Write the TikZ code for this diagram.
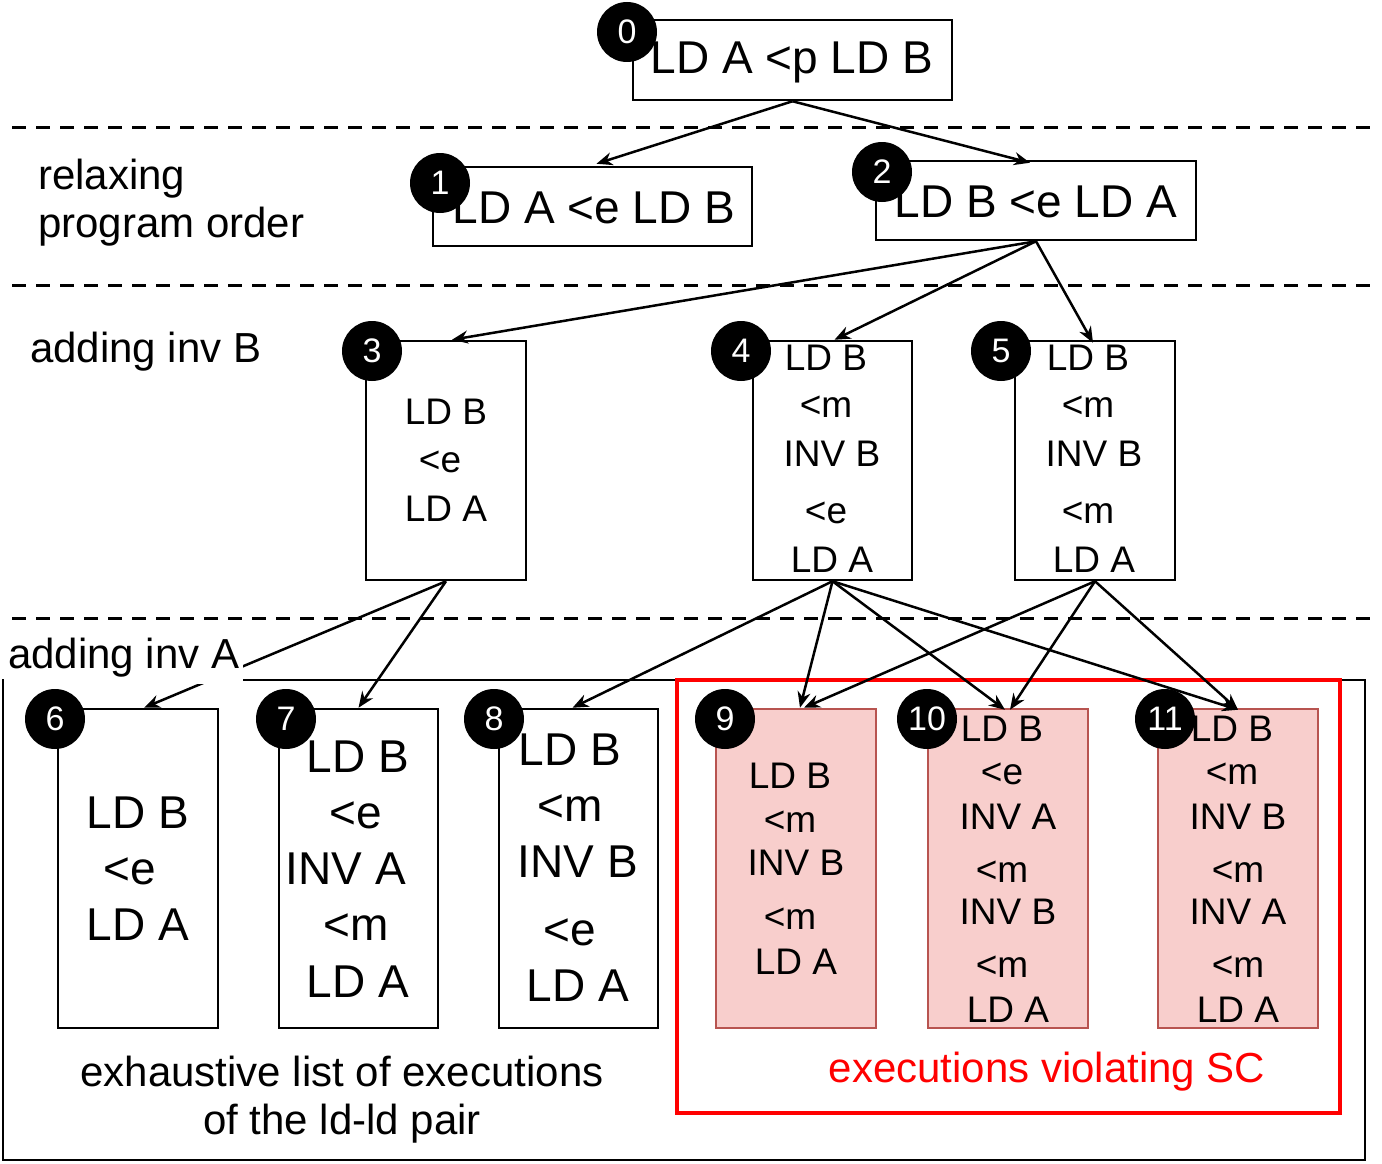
\documentclass[tikz,border=0pt]{standalone}
\usepackage{fontspec}
\setmainfont{Liberation Sans}
\usetikzlibrary{arrows.meta}
\definecolor{pinkf}{HTML}{F8CECC}
\definecolor{pinkd}{HTML}{B85450}
\begin{document}
\begin{tikzpicture}[x=1pt,y=-1pt,
  box/.style={draw,line width=2.5pt,inner sep=0pt},
  redbox/.style={box,fill=pinkf,draw=pinkd},
  badge/.style={circle,fill=black,text=white,minimum size=60pt,inner sep=0pt,font=\fontsize{34}{36}\selectfont},
  big/.style={font=\fontsize{46}{50}\selectfont,inner sep=0pt},
  lab/.style={font=\fontsize{42}{48}\selectfont,inner sep=0pt,align=left},
  mid/.style={font=\fontsize{37}{40}\selectfont,inner sep=0pt},
  lg/.style={font=\fontsize{46}{50}\selectfont,inner sep=0pt},
  arr/.style={line width=2.5pt,-{Stealth[length=16pt,width=13pt]}},
  dsh/.style={line width=3pt,dash pattern=on 14pt off 10pt}]
\useasboundingbox (0,0) rectangle (1382,1164);
% dashed separators
\coordinate (d1a) at (12,127); \coordinate (d1b) at (1370,127);
\coordinate (d2a) at (12,285); \coordinate (d2b) at (1370,285);
\coordinate (d3a) at (12,618); \coordinate (d3b) at (1370,618);
\draw[dsh] (d1a)--(d1b); \draw[dsh] (d2a)--(d2b); \draw[dsh] (d3a)--(d3b);
% outer boxes
\node[draw,line width=2.5pt,minimum width=1362pt,minimum height=480pt,inner sep=0pt] (outer) at (684,920) {};
\node[draw=red,line width=4pt,minimum width=663pt,minimum height=433pt,inner sep=0pt] (redarea) at (1008.5,896.5) {};
% top boxes
\node[box,minimum width=319pt,minimum height=80pt] (b0) at (792.5,60) {};
\node[big] (t0) at (792,62) {LD A <p LD B};
\node[box,minimum width=319pt,minimum height=79pt] (b1) at (592.5,206.5) {};
\node[big] (t1) at (594,208) {LD A <e LD B};
\node[box,minimum width=320pt,minimum height=79pt] (b2) at (1036,200.5) {};
\node[big] (t2) at (1036,202) {LD B <e LD A};
\node[lab,anchor=west] (lr) at (38,203) {relaxing\\program order};
\node[lab,anchor=west] (lb) at (30,352) {adding inv B};
% level 3
\node[box,minimum width=160pt,minimum height=239pt] (b3) at (446,460.5) {};
\node[mid] at (446,412) {LD B}; \node[mid] at (440,462) {<e}; \node[mid] at (446,509) {LD A};
\node[box,minimum width=159pt,minimum height=239pt] (b4) at (832.5,460.5) {};
\node[mid] at (826,358) {LD B}; \node[mid] at (826,407) {<m}; \node[mid] at (832,454) {INV B}; \node[mid] at (826,513) {<e}; \node[mid] at (832,560) {LD A};
\node[box,minimum width=160pt,minimum height=239pt] (b5) at (1095,460.5) {};
\node[mid] at (1088,358) {LD B}; \node[mid] at (1088,407) {<m}; \node[mid] at (1094,454) {INV B}; \node[mid] at (1088,513) {<m}; \node[mid] at (1094,560) {LD A};
% level 4
\node[box,minimum width=160pt,minimum height=319pt] (b6) at (138,868.5) {};
\node[lg] at (138,813) {LD B}; \node[lg] at (130,871) {<e}; \node[lg] at (138,925) {LD A};
\node[box,minimum width=159pt,minimum height=319pt] (b7) at (358.5,868.5) {};
\node[lg] at (358,757) {LD B}; \node[lg] at (356,815) {<e}; \node[lg] at (346,869) {INV A}; \node[lg] at (356,927) {<m}; \node[lg] at (358,982) {LD A};
\node[box,minimum width=159pt,minimum height=319pt] (b8) at (578.5,868.5) {};
\node[lg] at (570,750) {LD B}; \node[lg] at (570,808) {<m}; \node[lg] at (578,862) {INV B}; \node[lg] at (570,932) {<e}; \node[lg] at (578,986) {LD A};
\node[redbox,minimum width=160pt,minimum height=319pt] (b9) at (796,868.5) {};
\node[mid] at (790,776) {LD B}; \node[mid] at (790,822) {<m}; \node[mid] at (796,863) {INV B}; \node[mid] at (790,919) {<m}; \node[mid] at (796,962) {LD A};
\node[redbox,minimum width=160pt,minimum height=319pt] (b10) at (1008,868.5) {};
\node[mid] at (1002,729) {LD B}; \node[mid] at (1002,774) {<e}; \node[mid] at (1008,817) {INV A}; \node[mid] at (1002,872) {<m}; \node[mid] at (1008,912) {INV B}; \node[mid] at (1002,967) {<m}; \node[mid] at (1008,1010) {LD A};
\node[redbox,minimum width=160pt,minimum height=319pt] (b11) at (1238,868.5) {};
\node[mid] at (1232,729) {LD B}; \node[mid] at (1232,774) {<m}; \node[mid] at (1238,817) {INV B}; \node[mid] at (1238,872) {<m}; \node[mid] at (1238,912) {INV A}; \node[mid] at (1238,967) {<m}; \node[mid] at (1238,1010) {LD A};
% arrows
\draw[arr] (b0.south) -- ([xshift=4pt,yshift=2pt]b1.north);
\draw[arr] (b0.south) -- ([xshift=-6pt,yshift=-3pt]b2.north);
\draw[arr] (b2.south) -- ([xshift=6pt]b3.north);
\draw[arr] (b2.south) -- ([xshift=2pt]b4.north);
\draw[arr] (b2.south) -- ([xshift=-2pt,yshift=-3pt]b5.north);
\draw[arr] (b3.south) -- ([xshift=6pt]b6.north);
\draw[arr] (b3.south) -- (b7.north);
\draw[arr] (b4.south) -- ([xshift=-6pt]b8.north);
\draw[arr] (b4.south) -- ([xshift=4pt]b9.north);
\draw[arr] (b4.south) -- ([xshift=-3pt,yshift=-2pt]b10.north);
\draw[arr] (b4.south) -- ([yshift=-2pt]b11.north);
\draw[arr] (b5.south) -- ([xshift=8pt]b9.north);
\draw[arr] (b5.south) -- ([xshift=2pt,yshift=-2pt]b10.north);
\draw[arr] (b5.south) -- ([yshift=-2pt]b11.north);
% label covering line
\node[lab,fill=white,anchor=west,inner xsep=4pt,inner ysep=6pt] (la) at (4,658) {adding inv A};
% badges
\node[badge] (c0) at (627,32) {0};
\node[badge] (c1) at (440,183) {1};
\node[badge] (c2) at (882,172) {2};
\node[badge] (c3) at (372,351) {3};
\node[badge] (c4) at (741,351) {4};
\node[badge] (c5) at (1001,351) {5};
\node[badge] (c6) at (55,719) {6};
\node[badge] (c7) at (286,719) {7};
\node[badge] (c8) at (494,719) {8};
\node[badge] (c9) at (725,719) {9};
\node[badge] (c10) at (927,719) {10};
\node[badge] (c11) at (1165,719) {11};
% bottom texts
\node[lab,align=center] (ex) at (342,1100) {exhaustive list of executions\\of the ld-ld pair};
\node[lab,text=red] (vio) at (1047,1072) {executions violating SC};
\end{tikzpicture}
\end{document}
